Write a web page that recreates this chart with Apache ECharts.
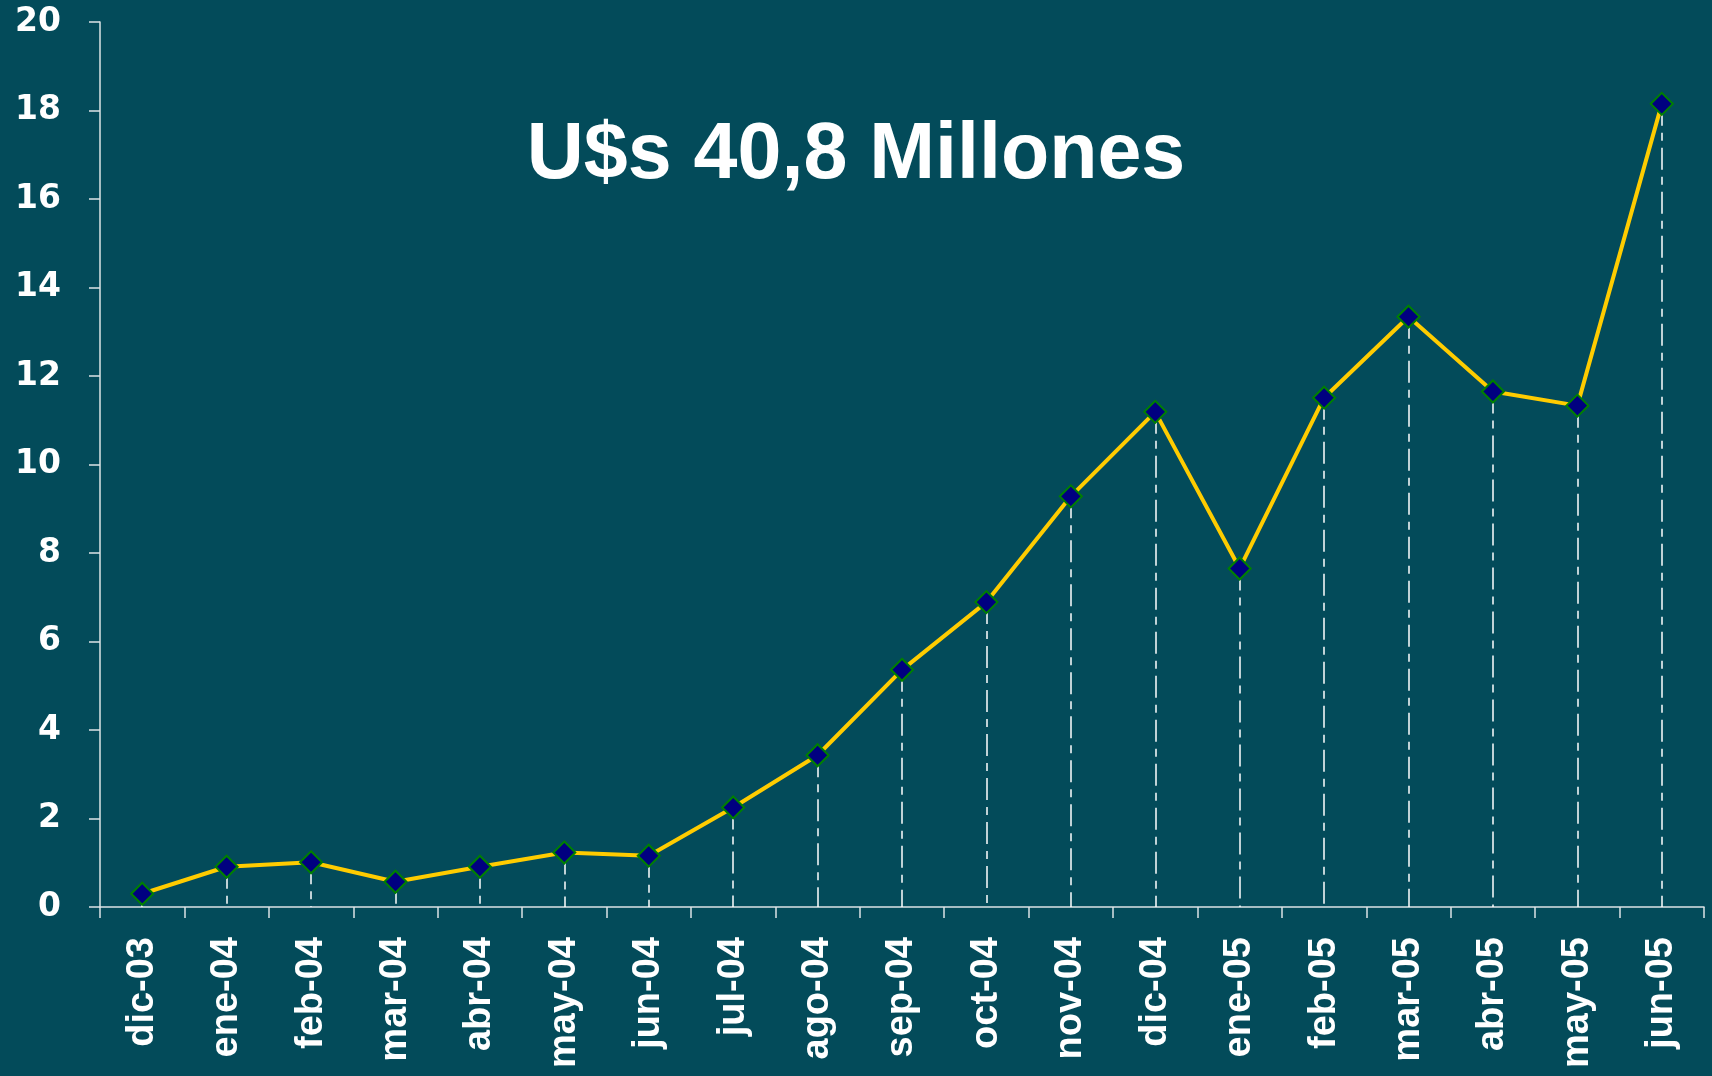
<!DOCTYPE html>
<html>
<head>
<meta charset="utf-8">
<script src="https://cdn.jsdelivr.net/npm/echarts@6/dist/echarts.min.js"></script>
<style>
  html, body { margin: 0; padding: 0; background: #034b5a; }
  #chart { width: 1712px; height: 1076px; }
</style>
</head>
<body>
<div id="chart"></div>
<script>
const months = ['dic-03', 'ene-04', 'feb-04', 'mar-04', 'abr-04', 'may-04', 'jun-04', 'jul-04', 'ago-04', 'sep-04',
  'oct-04', 'nov-04', 'dic-04', 'ene-05', 'feb-05', 'mar-05', 'abr-05', 'may-05', 'jun-05']
const amounts = [0.30, 0.91, 1.01, 0.57, 0.91, 1.23, 1.16, 2.25, 3.43, 5.36,
  6.89, 9.28, 11.19, 7.65, 11.51, 13.34, 11.65, 11.33, 18.15]
const titleText = 'U$s 40,8 Millones'

// vertical dashed drop lines from each point to the axis
const dropLines = amounts.map((v, i) => [{coord: [i, v]}, {coord: [i, 0]}])

const chart = echarts.init(document.getElementById('chart'))
chart.setOption({
  backgroundColor: '#034b5a',
  animation: false,
  title: {
    text: titleText,
    left: 'center',
    top: 112,
    textStyle: {
      fontFamily: 'Liberation Sans',
      fontSize: 79,
      fontWeight: 'bold',
      color: '#fff'
    }
  },
  grid: {left: 100, right: 8, top: 22, bottom: 169},
  xAxis: {
    type: 'category',
    data: months,
    boundaryGap: true,
    axisLine: {lineStyle: {color: '#dde4e6', width: 1.5}},
    axisTick: {show: true, length: 11, lineStyle: {color: '#dde4e6', width: 1.5}},
    axisLabel: {
      rotate: 90,
      margin: 30,
      interval: 0,
      color: '#fff',
      fontFamily: 'Liberation Sans',
      fontWeight: 'bold',
      fontSize: 38
    },
    splitLine: {show: false}
  },
  yAxis: {
    type: 'value',
    min: 0,
    max: 20,
    interval: 2,
    axisLine: {show: true, lineStyle: {color: '#dde4e6', width: 1.5}},
    axisTick: {show: true, length: 11, lineStyle: {color: '#dde4e6', width: 1.5}},
    axisLabel: {
      margin: 39,
      color: '#fff',
      fontFamily: 'DejaVu Sans',
      fontWeight: 'bold',
      fontSize: 33
    },
    splitLine: {show: false}
  },
  series: [{
    type: 'line',
    data: amounts,
    symbol: 'diamond',
    symbolSize: 22,
    showAllSymbol: true,
    lineStyle: {color: '#ffcc00', width: 4},
    itemStyle: {color: '#000080', borderColor: '#008000', borderWidth: 2},
    z: 3,
    markLine: {
      silent: true,
      symbol: ['none', 'none'],
      label: {show: false},
      lineStyle: {color: '#ffffff', type: [22, 7, 8, 7], width: 1.5},
      data: dropLines,
      z: 1
    }
  }]
})
</script>
</body>
</html>
